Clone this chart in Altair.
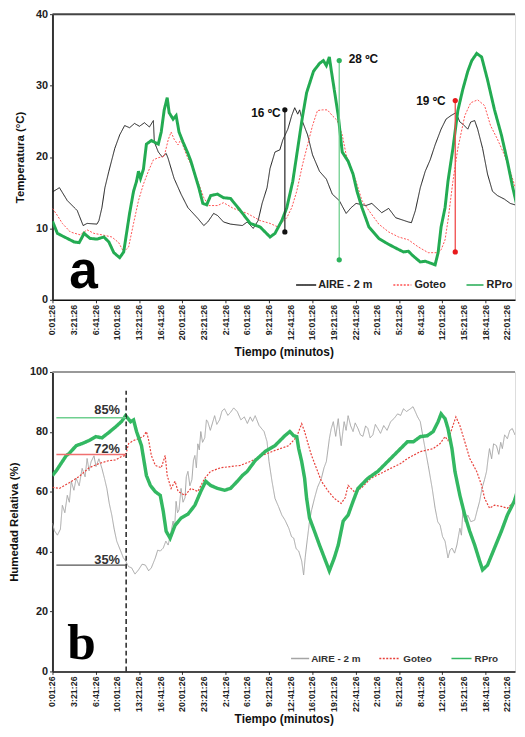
import altair as alt
import pandas as pd

# ---------------- axis data ----------------
TICK_LABELS = ["0:01:26", "3:21:26", "6:41:26", "10:01:26", "13:21:26", "16:41:26",
               "20:01:26", "23:21:26", "2:41:26", "6:01:26", "9:21:26", "12:41:26",
               "16:01:26", "19:21:26", "22:41:26", "2:01:26", "5:21:26", "8:41:26",
               "12:01:26", "15:21:26", "18:41:26", "22:01:26"]
TICK_STEP_H = 200 / 60          # one label every 200 minutes
X_MAX_H = 71.2
NAMES = ["AIRE - 2 m", "Goteo", "RPro"]

# ---------------- panel a : temperature (hours, degC) ----------------
TEMP_AIRE = [(0.0, 15.1), (1.07, 15.7), (2.28, 13.9), (3.81, 12.5), (4.72, 10.4), (5.33, 10.7),
             (6.85, 10.6), (7.15, 11.1), (7.61, 12.9), (8.07, 15.7), (8.68, 18.0), (9.59, 21.2),
             (10.35, 23.1), (11.11, 24.4), (11.87, 24.1), (12.63, 24.7), (13.39, 24.3), (14.16, 24.8),
             (14.92, 24.2), (15.53, 25.1), (15.68, 22.1), (16.29, 20.7), (16.9, 20.0), (17.5, 20.5),
             (17.8, 19.8), (18.72, 17.0), (19.79, 14.8), (20.85, 12.9), (22.37, 11.4), (23.29, 10.4),
             (23.9, 10.9), (24.81, 12.1), (25.42, 11.8), (26.33, 10.9), (27.4, 10.6), (29.22, 10.4),
             (29.98, 10.9), (30.9, 10.0), (31.66, 11.1), (32.27, 13.5), (33.03, 15.7), (33.49, 18.4),
             (34.25, 20.7), (35.0, 21.0), (35.46, 22.4), (36.23, 23.9), (36.83, 25.8), (37.29, 26.9),
             (37.75, 26.0), (38.05, 26.6), (38.51, 24.9), (39.27, 23.1), (40.03, 20.3), (41.1, 18.0),
             (42.16, 16.9), (43.07, 14.8), (44.14, 13.9), (45.21, 12.1), (45.97, 12.9), (46.73, 13.5),
             (48.25, 13.2), (49.16, 13.5), (50.68, 12.2), (51.75, 12.8), (52.82, 11.5), (54.79, 10.9),
             (55.25, 10.8), (55.86, 12.5), (56.62, 15.7), (57.38, 18.0), (58.14, 19.6), (58.9, 21.7),
             (59.82, 23.9), (60.58, 25.3), (61.34, 25.8), (62.1, 26.2), (62.71, 24.9), (63.17, 24.6),
             (63.93, 23.9), (64.38, 24.9), (64.99, 25.1), (65.45, 23.9), (66.21, 21.2), (66.97, 17.6),
             (67.73, 15.2), (68.49, 14.6), (69.56, 14.1), (70.47, 13.5), (71.54, 13.2)]

TEMP_GOTEO = [(0.0, 12.8), (0.76, 11.8), (1.52, 10.7), (2.74, 9.5), (4.26, 9.1), (5.33, 9.8),
              (6.39, 9.3), (7.61, 9.1), (9.13, 8.8), (10.2, 8.0), (10.96, 6.7), (11.72, 7.4),
              (12.48, 10.7), (13.24, 13.9), (14.0, 16.2), (14.76, 18.0), (15.53, 19.6), (16.29, 19.9),
              (17.2, 20.1), (17.81, 22.4), (18.26, 23.5), (18.72, 22.5), (19.33, 21.7), (19.79, 22.5),
              (20.24, 21.2), (20.85, 19.8), (21.31, 19.0), (22.37, 16.6), (23.29, 14.3), (24.05, 13.2),
              (25.42, 13.2), (26.33, 13.6), (27.85, 12.8), (29.98, 12.1), (31.96, 11.1), (33.49, 10.7),
              (34.7, 10.2), (36.07, 11.5), (36.83, 12.9), (37.6, 15.2), (38.51, 19.0), (39.27, 21.7),
              (40.03, 24.4), (40.79, 26.5), (41.55, 26.6), (42.31, 26.6), (43.07, 25.8), (43.84, 25.1),
              (44.6, 23.1), (45.21, 20.3), (45.97, 18.4), (46.73, 16.6), (47.64, 13.9), (48.71, 12.5),
              (50.23, 10.6), (51.75, 9.5), (53.27, 8.8), (54.79, 8.4), (56.32, 7.4), (57.84, 6.6),
              (59.36, 6.6), (59.82, 7.0), (60.43, 8.4), (60.88, 11.1), (61.64, 16.6), (62.4, 21.2),
              (63.47, 25.8), (64.38, 27.6), (65.45, 28.0), (66.51, 27.2), (67.43, 24.4), (68.49, 22.5),
              (69.56, 20.3), (70.47, 18.0), (71.08, 16.2), (71.54, 14.8)]

TEMP_RPRO = [(0.0, 11.0), (0.76, 9.3), (1.83, 8.8), (3.35, 8.1), (4.11, 8.0), (4.87, 9.3),
             (5.78, 8.6), (6.85, 8.5), (7.91, 8.8), (8.68, 8.1), (9.44, 6.6), (10.35, 5.9),
             (10.96, 6.7), (11.87, 12.1), (12.48, 15.2), (12.94, 16.6), (13.24, 18.0), (13.55, 17.0),
             (14.0, 18.3), (14.46, 21.8), (15.22, 22.3), (16.29, 21.8), (16.74, 23.5), (17.2, 26.6),
             (17.66, 28.3), (17.96, 26.2), (18.57, 25.3), (19.03, 25.8), (19.48, 23.5), (20.09, 22.1),
             (20.85, 20.5), (21.31, 19.4), (21.77, 18.0), (22.53, 15.7), (23.14, 13.5), (23.74, 13.3),
             (24.35, 14.6), (25.42, 14.8), (26.33, 14.3), (27.4, 14.2), (28.92, 12.5), (30.44, 10.7),
             (31.96, 10.2), (33.49, 8.8), (34.25, 9.3), (35.31, 11.1), (36.07, 12.9), (36.99, 16.6),
             (37.75, 21.2), (38.51, 25.8), (39.12, 29.0), (40.18, 32.0), (41.1, 33.1), (41.7, 33.5),
             (42.16, 32.8), (42.62, 34.0), (42.92, 32.1), (43.38, 29.4), (43.99, 25.8), (44.6, 20.7),
             (45.51, 19.4), (46.27, 17.6), (46.88, 15.2), (47.64, 12.9), (48.71, 10.2), (50.23, 8.6),
             (51.29, 8.0), (52.51, 7.4), (54.03, 6.7), (54.79, 6.8), (55.56, 6.1), (56.62, 5.3),
             (57.38, 5.4), (58.3, 5.1), (58.9, 4.9), (59.36, 6.6), (59.82, 10.2), (60.43, 12.9),
             (60.88, 16.6), (61.64, 21.2), (62.4, 26.5), (63.17, 29.5), (63.93, 32.0), (64.54, 33.5),
             (65.3, 34.5), (66.06, 34.0), (66.97, 30.8), (68.04, 26.6), (69.1, 23.1), (70.02, 19.4),
             (70.78, 16.0), (71.54, 13.0)]

TEMP_ANN_TEXT = ["16 ºC", "28 ºC", "19 ºC"]
TEMP_ANN_X = [35.77, 44.14, 62.0]
TEMP_ANN_LOW = [9.5, 5.6, 6.7]
TEMP_ANN_HIGH = [26.6, 33.5, 27.9]
TEMP_ANN_TEXT_X = [30.6, 45.6, 56.0]
TEMP_ANN_TEXT_Y = [26.2, 33.7, 27.8]
TEMP_ANN_COLORS = ["#111111", "#2db35d", "#e8191c"]
TEMP_ANN_LINE_COLORS = ["#333333", "#6fcf8f", "#f04a4a"]

# ---------------- panel b : relative humidity (hours, %) ----------------
HR_AIRE = [(0.0, 49.5), (0.3, 47.0), (0.76, 45.5), (1.22, 47.5), (1.52, 55.5), (1.9, 53.0),
           (2.28, 58.8), (2.6, 56.5), (2.89, 63.5), (3.3, 60.5), (3.65, 64.5), (4.11, 62.0),
           (4.57, 67.8), (5.02, 65.0), (5.33, 71.1), (5.64, 67.0), (5.94, 70.0), (6.39, 72.0),
           (6.7, 68.4), (7.15, 71.0), (7.61, 67.8), (8.0, 64.5), (8.37, 61.1), (8.75, 56.0),
           (9.13, 52.2), (9.5, 47.5), (9.89, 43.5), (10.5, 40.2), (10.9, 38.0), (11.26, 36.9),
           (11.7, 35.0), (12.18, 34.6), (12.7, 32.5), (13.24, 33.9), (13.8, 35.8), (14.31, 35.5),
           (14.8, 33.6), (15.22, 34.6), (15.83, 37.9), (16.2, 40.5), (16.59, 40.2), (17.05, 41.2),
           (17.45, 43.5), (17.81, 42.2), (18.2, 46.0), (18.57, 50.2), (18.8, 48.0), (19.03, 56.8),
           (19.25, 53.0), (19.48, 54.0), (19.79, 61.1), (20.1, 56.5), (20.4, 58.0), (20.6, 65.0),
           (20.85, 66.8), (21.15, 62.0), (21.46, 64.0), (21.7, 70.5), (21.92, 72.1), (22.15, 68.0),
           (22.37, 76.0), (22.6, 74.0), (22.83, 80.1), (23.1, 76.5), (23.44, 78.0), (23.7, 84.0),
           (23.9, 83.4), (24.3, 80.5), (24.96, 85.4), (25.3, 82.5), (25.72, 84.0), (26.1, 87.0),
           (26.48, 87.7), (27.0, 85.5), (27.4, 86.5), (27.9, 88.0), (28.46, 86.7), (29.0, 84.0),
           (29.53, 85.0), (30.0, 82.8), (30.44, 85.0), (30.8, 83.5), (31.2, 85.4), (31.81, 82.1),
           (32.57, 80.1), (33.03, 76.7), (33.33, 70.1), (33.79, 63.5), (34.25, 57.8), (34.8, 55.0),
           (35.31, 52.2), (35.8, 50.5), (36.38, 47.8), (36.8, 45.0), (37.14, 44.5), (37.5, 41.0),
           (37.9, 40.2), (38.36, 36.9), (38.66, 32.2), (38.9, 38.0), (39.12, 42.2), (39.57, 50.2),
           (39.9, 54.0), (40.33, 57.8), (40.8, 61.5), (41.4, 64.5), (41.8, 68.0), (42.16, 70.1),
           (42.4, 74.0), (42.62, 77.7), (42.9, 81.0), (43.23, 83.4), (43.6, 78.5), (43.99, 84.4),
           (44.2, 80.0), (44.44, 75.4), (44.7, 80.0), (44.9, 83.4), (45.2, 80.5), (45.51, 85.4),
           (45.9, 82.0), (46.27, 80.1), (46.6, 83.0), (47.03, 81.1), (47.4, 79.0), (47.79, 78.5),
           (48.2, 82.0), (48.55, 81.1), (48.9, 78.0), (49.32, 79.0), (49.7, 82.5), (50.08, 81.1),
           (50.5, 79.5), (50.99, 82.1), (51.5, 80.5), (52.05, 83.4), (52.6, 84.5), (53.12, 86.0),
           (53.6, 85.5), (54.03, 87.7), (54.5, 86.8), (55.1, 87.7), (55.5, 88.4), (55.86, 86.7),
           (56.2, 85.0), (56.62, 83.4), (57.08, 77.7), (57.84, 68.8), (58.45, 61.1), (58.9, 54.5),
           (59.3, 50.0), (59.67, 48.8), (60.05, 45.0), (60.43, 43.5), (60.88, 37.9), (61.2, 40.5),
           (61.49, 41.2), (61.9, 39.5), (62.25, 42.2), (62.71, 47.8), (62.95, 45.5), (63.17, 53.5),
           (63.5, 50.0), (63.93, 52.2), (64.4, 50.0), (64.99, 50.5), (65.4, 54.0), (65.75, 56.8),
           (66.1, 61.0), (66.5, 64.0), (66.82, 66.8), (67.05, 71.0), (67.27, 74.4), (67.6, 71.0),
           (67.9, 76.0), (68.34, 75.4), (68.7, 72.5), (69.0, 76.5), (69.25, 74.4), (69.6, 79.0),
           (70.02, 77.7), (70.4, 80.5), (70.78, 81.1), (71.2, 79.0), (71.84, 84.4)]

HR_GOTEO = [(0.0, 61.5), (1.07, 61.1), (2.59, 63.0), (4.11, 65.1), (5.63, 68.0), (7.15, 69.4),
            (8.68, 70.4), (9.74, 70.6), (10.65, 71.8), (11.26, 72.1), (11.72, 76.1), (12.48, 77.1),
            (13.24, 77.7), (14.0, 78.5), (14.46, 80.1), (14.76, 77.7), (15.22, 72.1), (15.83, 68.8),
            (16.74, 68.0), (17.35, 72.1), (17.66, 65.4), (18.26, 61.1), (18.87, 63.5), (19.33, 60.1),
            (20.4, 58.8), (21.31, 61.1), (22.37, 60.1), (23.44, 64.5), (24.35, 66.8), (25.88, 68.0),
            (27.4, 68.4), (28.92, 68.8), (30.44, 70.1), (32.27, 72.1), (34.25, 73.8), (36.38, 75.4),
            (37.6, 78.4), (38.36, 82.7), (38.81, 80.1), (39.42, 75.4), (39.88, 72.1), (40.64, 67.8),
            (41.4, 63.5), (42.47, 60.1), (43.38, 57.8), (44.44, 56.1), (45.05, 58.0), (45.51, 62.1),
            (46.42, 60.1), (47.49, 61.1), (49.01, 64.5), (50.53, 66.1), (52.05, 67.8), (53.58, 69.4),
            (54.64, 71.1), (56.62, 73.4), (58.6, 74.4), (59.67, 76.1), (60.43, 78.4), (60.88, 77.1),
            (61.49, 81.1), (62.1, 85.0), (62.71, 82.1), (63.47, 76.7), (64.23, 71.1), (65.3, 66.8),
            (66.06, 62.1), (66.52, 57.8), (67.28, 54.5), (68.04, 55.5), (69.1, 55.1), (70.02, 54.5),
            (71.08, 56.8), (71.84, 60.1)]

HR_RPRO = [(0.0, 65.4), (0.61, 67.1), (1.52, 70.1), (2.13, 72.1), (2.59, 72.8), (3.65, 75.4),
           (4.57, 76.1), (5.63, 77.1), (6.7, 78.4), (7.61, 78.0), (8.68, 79.8), (9.74, 81.7),
           (10.65, 83.5), (11.26, 85.4), (12.02, 83.4), (12.48, 84.0), (12.94, 80.1), (13.7, 75.4),
           (14.46, 65.4), (15.07, 62.1), (15.83, 60.0), (16.59, 58.8), (17.05, 53.5), (17.5, 46.8),
           (18.11, 44.5), (18.87, 48.8), (19.79, 51.2), (20.85, 52.5), (21.92, 55.5), (22.83, 60.1),
           (23.59, 63.5), (24.35, 62.1), (25.42, 61.1), (26.48, 60.5), (27.4, 61.1), (28.46, 63.5),
           (29.22, 65.4), (29.98, 66.8), (31.2, 70.4), (32.72, 73.4), (34.25, 75.4), (35.77, 78.7),
           (36.53, 80.1), (37.14, 78.7), (37.6, 78.4), (37.9, 74.4), (38.36, 70.1), (38.81, 64.5),
           (39.12, 57.8), (39.57, 51.2), (40.33, 46.8), (41.1, 42.2), (41.86, 37.9), (42.62, 33.6),
           (43.38, 37.9), (43.99, 42.2), (44.75, 50.2), (45.51, 52.2), (46.27, 56.8), (47.03, 61.1),
           (48.55, 64.5), (50.08, 66.8), (51.6, 70.1), (53.12, 73.4), (54.64, 76.7), (55.56, 76.7),
           (56.62, 78.4), (57.69, 78.7), (58.6, 80.1), (59.36, 83.4), (59.82, 86.0), (60.43, 84.4),
           (60.88, 81.1), (61.49, 74.4), (61.95, 66.8), (62.71, 58.8), (63.47, 52.2), (64.23, 46.8),
           (64.99, 42.2), (65.75, 36.9), (66.21, 33.9), (66.97, 35.5), (68.04, 41.2), (69.1, 46.8),
           (70.02, 52.2), (71.08, 56.8), (71.84, 62.1)]

HR_MARK_X = 11.34
HR_MARK_TOP = 93.7
HR_LEVEL_START = 0.6
HR_LEVELS = [84.7, 72.4, 35.5]
HR_LEVEL_TEXT = ["85%", "72%", "35%"]
HR_LEVEL_TEXT_X = 10.4
HR_LEVEL_TEXT_Y = [87.3, 74.2, 37.3]
HR_LEVEL_COLORS = ["#6fcf8f", "#f07070", "#555555"]

# ---------------- styling / layout ----------------
FONT = "Liberation Sans"
H_A = 289
H_B = 303
W = 468
COLORS_A = ["#1a1a1a", "#ff5252", "#23ab52"]
COLORS_B = ["#a5a5a5", "#e8403a", "#33b862"]
DASHES = [[1, 0], [2, 1.5], [1, 0]]
WIDTHS_A = [1, 1, 3]
WIDTHS_B = [1, 1.2, 3.5]
# legend pixel layout inside each plot: (sample start, sample end, text start)
LEG_A = [(246.5, 266.8, 268.8), (344.9, 363.1, 366.2), (418.9, 436.1, 439.2)]
LEG_B = [(241.4, 259.7, 261.7), (330.7, 351.0, 355.0), (403.7, 424.0, 427.0)]

tick_df = pd.DataFrame({"h": [i * TICK_STEP_H for i in range(len(TICK_LABELS))], "t": TICK_LABELS})
one = pd.DataFrame({"k": [0]})


def series_df(pts):
    return pd.DataFrame({"h": [p[0] for p in pts], "v": [p[1] for p in pts]})


def x_enc(title_pad):
    return alt.X("h:Q",
                 scale=alt.Scale(domain=[0, X_MAX_H], nice=False, zero=False),
                 axis=alt.Axis(values=list(tick_df["h"]), labels=False, tickSize=3, tickColor="#333",
                               domainColor="#111", domainWidth=1.5, grid=False,
                               title="Tiempo (minutos)", titleFont=FONT, titleFontSize=12,
                               titleFontWeight="bold", titleColor="#111", titlePadding=title_pad))


def y_enc(domain, step, title):
    return alt.Y("v:Q",
                 scale=alt.Scale(domain=domain, nice=False, zero=False),
                 axis=alt.Axis(values=list(range(domain[0], domain[1] + 1, step)),
                               labelFontSize=11, labelFontWeight="bold", labelColor="#222",
                               labelFont=FONT, tickSize=3, tickColor="#333",
                               domainColor="#333", domainWidth=2, grid=False,
                               title=title, titleFont=FONT, titleFontSize=11.5,
                               titleFontWeight="bold", titleColor="#111", titlePadding=10))


def line_layers(series, colors, widths, ydomain, ystep, ytitle, title_pad):
    return [alt.Chart(series_df(pts)).mark_line(clip=True, color=c, strokeDash=d, strokeWidth=w).encode(
        x=x_enc(title_pad), y=y_enc(ydomain, ystep, ytitle))
        for pts, c, d, w in zip(series, colors, DASHES, widths)]


def legend_layers(height, above, layout, colors, fontsize, text_color):
    out = []
    y = height - above
    for name, (x0, x1, xt), c, d in zip(NAMES, layout, colors, DASHES):
        out.append(alt.Chart(one).mark_rule(color=c, strokeDash=d, strokeWidth=1.5).encode(
            x=alt.value(x0), x2=alt.value(x1), y=alt.value(y)))
        out.append(alt.Chart(one).mark_text(text=name, align="left", baseline="middle", font=FONT,
                                            fontSize=fontsize, fontWeight="bold", color=text_color
                                            ).encode(x=alt.value(xt), y=alt.value(y)))
    return out


def tick_labels(height):
    return alt.Chart(tick_df).mark_text(angle=270, align="right", baseline="middle", font=FONT,
                                        fontSize=9, fontWeight="bold", color="#222").encode(
        x="h:Q", y=alt.value(height + 5), text="t:N")


# ---------- panel a ----------
lines_a = line_layers([TEMP_AIRE, TEMP_GOTEO, TEMP_RPRO], COLORS_A, WIDTHS_A, [0, 40], 5,
                      "Temperatura (°C)", 44)
top_a = alt.Chart(pd.DataFrame({"v": [40]})).mark_rule(color="#444", strokeWidth=2).encode(y="v:Q")

ann_a = []
for i in range(len(TEMP_ANN_TEXT)):
    d = pd.DataFrame({"h": [TEMP_ANN_X[i]], "lo": [TEMP_ANN_LOW[i]], "hi": [TEMP_ANN_HIGH[i]],
                      "tx": [TEMP_ANN_TEXT_X[i]], "ty": [TEMP_ANN_TEXT_Y[i]], "t": [TEMP_ANN_TEXT[i]]})
    base = alt.Chart(d)
    ann_a.append(base.mark_rule(color=TEMP_ANN_LINE_COLORS[i], strokeWidth=1.3).encode(
        x="h:Q", y="lo:Q", y2="hi:Q"))
    ann_a.append(base.mark_circle(color=TEMP_ANN_COLORS[i], size=28, opacity=1).encode(x="h:Q", y="lo:Q"))
    ann_a.append(base.mark_circle(color=TEMP_ANN_COLORS[i], size=28, opacity=1).encode(x="h:Q", y="hi:Q"))
    ann_a.append(base.mark_text(font=FONT, fontSize=12, fontWeight="bold", align="left",
                                baseline="middle", color="#111").encode(x="tx:Q", y="ty:Q", text="t:N"))

letter_a = alt.Chart(pd.DataFrame({"h": [2.6], "v": [1.6], "t": ["a"]})).mark_text(
    font=FONT, fontSize=52, fontWeight="bold", align="left", baseline="alphabetic", color="#000"
).encode(x="h:Q", y="v:Q", text="t:N")

panel_a = alt.layer(*lines_a, top_a, *ann_a, letter_a, tick_labels(H_A),
                    *legend_layers(H_A, 15, LEG_A, COLORS_A, 11, "#222")
                    ).properties(width=W, height=H_A)

# ---------- panel b ----------
lines_b = line_layers([HR_AIRE, HR_GOTEO, HR_RPRO], COLORS_B, WIDTHS_B, [0, 100], 10,
                      "Humedad Relativa (%)", 39)
top_b = alt.Chart(pd.DataFrame({"v": [100]})).mark_rule(color="#999", strokeWidth=2).encode(y="v:Q")

dash_b = alt.Chart(pd.DataFrame({"h": [HR_MARK_X], "lo": [0], "hi": [HR_MARK_TOP]})).mark_rule(
    color="#222", strokeWidth=1.5, strokeDash=[5, 3]).encode(x="h:Q", y="lo:Q", y2="hi:Q")

ann_b = []
for i in range(len(HR_LEVELS)):
    d = pd.DataFrame({"h0": [HR_LEVEL_START], "h1": [HR_MARK_X], "v": [HR_LEVELS[i]],
                      "tx": [HR_LEVEL_TEXT_X], "ty": [HR_LEVEL_TEXT_Y[i]], "t": [HR_LEVEL_TEXT[i]]})
    base = alt.Chart(d)
    ann_b.append(base.mark_rule(color=HR_LEVEL_COLORS[i], strokeWidth=1.5).encode(
        x="h0:Q", x2="h1:Q", y="v:Q"))
    ann_b.append(base.mark_text(font=FONT, fontSize=13, fontWeight="bold", align="right",
                                baseline="middle", color="#333").encode(x="tx:Q", y="ty:Q", text="t:N"))

letter_b = alt.Chart(pd.DataFrame({"h": [2.28], "v": [4.0], "t": ["b"]})).mark_text(
    font="Liberation Serif", fontSize=52, fontWeight="bold", align="left", baseline="alphabetic",
    color="#000").encode(x="h:Q", y="v:Q", text="t:N")

panel_b = alt.layer(*lines_b, top_b, dash_b, *ann_b, letter_b, tick_labels(H_B),
                    *legend_layers(H_B, 13, LEG_B, COLORS_B, 10, "#333")
                    ).properties(width=W, height=H_B)

chart = alt.vconcat(panel_a, panel_b, spacing=7).resolve_scale(
    x="independent", y="independent"
).properties(
    padding={"left": 0, "top": -5, "right": 0, "bottom": 0}
).configure_view(strokeWidth=0).configure(background="white")

chart.save("out.html", embed_options={"renderer": "svg", "actions": False})
